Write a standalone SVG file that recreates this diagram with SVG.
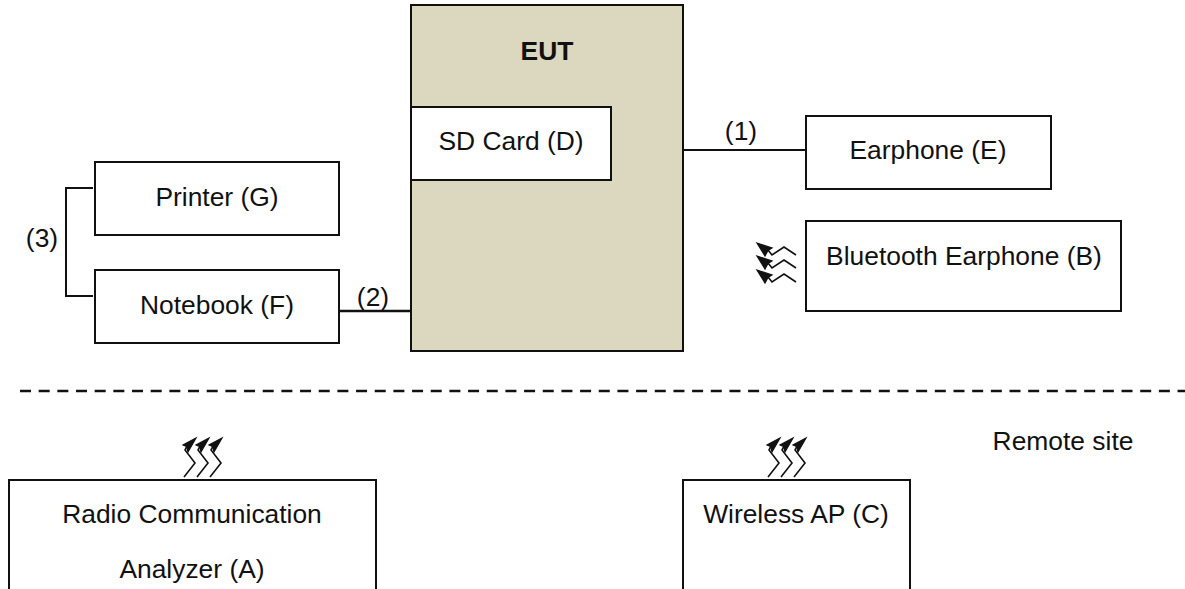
<svg xmlns="http://www.w3.org/2000/svg" width="1185" height="589" viewBox="0 0 1185 589">
<style>
text{font-family:"Liberation Sans",Arial,sans-serif;font-size:26.4px;fill:#111;text-anchor:middle}
.box{fill:#fff;stroke:#111;stroke-width:2}
.wire{fill:none;stroke:#111;stroke-width:2}
.zig{fill:none;stroke:#111;stroke-width:1.6}
.head{fill:#111;stroke:#111;stroke-width:1.2}
</style>
<defs>
<g id="up"><path class="zig" d="M0 27L11 13L1 0L3 -4"/><path class="head" d="M12 -12L-1 -5L2.5 -3.5L4 2Z"/></g>
<g id="up3"><use href="#up" x="0"/><use href="#up" x="13"/><use href="#up" x="26"/></g>
<g id="left"><path class="zig" d="M24 0L12 -8L0 0L-4 -5"/><path class="head" d="M-15 -12L0 -7L-4 -4.5L-7 1Z"/></g>
</defs>
<rect width="1185" height="589" fill="#fff"/>
<g id="connectors">
<path class="wire" d="M93 188H66V296H93"/>
<path class="wire" style="stroke-width:2.5" d="M340 311H411"/>
<path class="wire" d="M683 150H806"/>
<path fill="none" stroke="#111" stroke-width="2.4" stroke-dasharray="11 7.67" d="M20 391H1185"/>
</g>
<g id="eut"><rect x="411" y="5" width="272" height="346" fill="#dcd7bf" stroke="#111" stroke-width="2"/><text x="547" y="60" style="font-weight:bold">EUT</text></g>
<g id="sdcard"><rect class="box" x="411" y="107" width="200" height="73"/><text x="511" y="150">SD Card (D)</text></g>
<g id="earphone"><rect class="box" x="806" y="116" width="245" height="73"/><text x="928" y="159">Earphone (E)</text></g>
<g id="bt"><rect class="box" x="806" y="221" width="315" height="90"/><text x="964" y="265">Bluetooth Earphone (B)</text></g>
<g id="printer"><rect class="box" x="95" y="162" width="244" height="73"/><text x="217" y="206">Printer (G)</text></g>
<g id="notebook"><rect class="box" x="95" y="270" width="244" height="73"/><text x="217" y="314">Notebook (F)</text></g>
<g id="analyzer"><path class="box" d="M9 589V480H376V589"/><text x="192" y="523">Radio Communication</text><text x="192" y="578">Analyzer (A)</text></g>
<g id="ap"><path class="box" d="M683 589V480H910V589"/><text x="796" y="523">Wireless AP (C)</text></g>
<g id="wireless">
<use href="#up3" x="184" y="450"/>
<use href="#up3" x="768" y="450"/>
<use href="#left" x="772" y="255"/><use href="#left" x="772" y="268"/><use href="#left" x="772" y="282"/>
</g>
<g id="labels">
<text x="741" y="140">(1)</text>
<text x="373" y="306">(2)</text>
<text x="42" y="247">(3)</text>
<text x="1063" y="450">Remote site</text>
</g>
</svg>
